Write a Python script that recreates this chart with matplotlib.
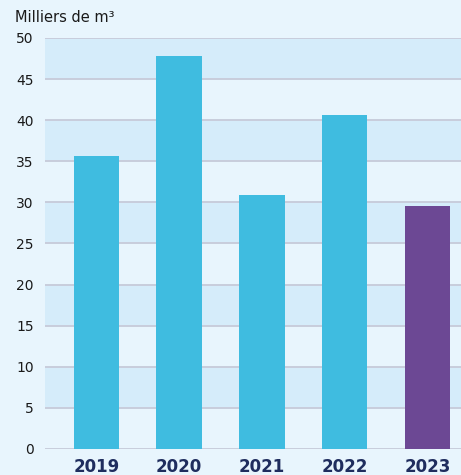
import matplotlib
matplotlib.use("Agg")
import matplotlib.pyplot as plt

years = ["2019", "2020", "2021", "2022", "2023"]
values = [35.7, 47.8, 30.9, 40.6, 29.6]
bar_colors = ["#3fbce0", "#3fbce0", "#3fbce0", "#3fbce0", "#6c4894"]
yticks = [0, 5, 10, 15, 20, 25, 30, 35, 40, 45, 50]

bg = "#e8f5fd"
band = "#d5ecfa"

fig = plt.figure(figsize=(4.61, 4.75), dpi=100, facecolor=bg)
ax = fig.add_axes([45 / 461, 26 / 475, 1 - 45 / 461, (449 - 38) / 475])
ax.set_facecolor(bg)

# alternating horizontal bands
for lo in range(5, 50, 10):
    ax.axhspan(lo, lo + 5, color=band, zorder=0, lw=0)

for t in yticks:
    ax.axhline(t, color="#c8cddc", lw=1.4, zorder=1)

x = list(range(len(years)))
ax.bar(x, values, width=0.55, color=bar_colors, zorder=2)

ax.set_xlim(-0.62, 4.405)
ax.set_ylim(0, 50)
ax.set_yticks(yticks)
ax.set_yticklabels([str(t) for t in yticks], fontsize=10, color="#1a1a1a")
ax.set_xticks(x)
ax.set_xticklabels(years, fontsize=12, fontweight="bold", color="#1f2d5e")
ax.tick_params(axis="both", length=0)
ax.tick_params(axis="y", pad=8)
ax.tick_params(axis="x", pad=6.5)
for s in ax.spines.values():
    s.set_visible(False)

fig.text(15 / 461, 1 - 17 / 475, "Milliers de m³", fontsize=10.5, color="#1a1a1a",
         ha="left", va="center")

fig.savefig("out.png", dpi=100, facecolor=bg)
